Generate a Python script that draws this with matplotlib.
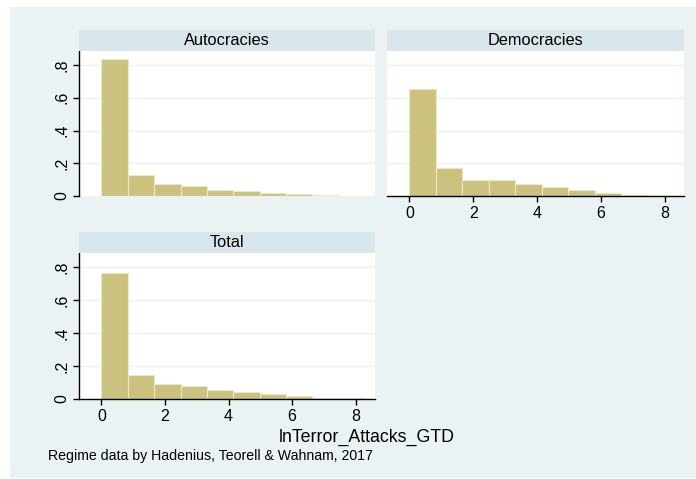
import matplotlib
matplotlib.use("Agg")
import matplotlib.pyplot as plt
import numpy as np
from matplotlib.patches import Rectangle

# histogram densities (10 bins of width ~0.83 from 0)
bin_width = 0.83
autocracies = [0.837, 0.128, 0.074, 0.061, 0.039, 0.033, 0.018, 0.012, 0.006, 0.003]
democracies = [0.653, 0.174, 0.100, 0.099, 0.072, 0.053, 0.039, 0.016, 0.004, 0.0]
total = [0.767, 0.148, 0.088, 0.077, 0.055, 0.041, 0.029, 0.016, 0.008, 0.005]

x_ticks = [0, 2, 4, 6, 8]
y_ticks = [0, 0.2, 0.4, 0.6, 0.8]
y_labels = ["0", ".2", ".4", ".6", ".8"]

BG = "#eaf2f3"
STRIP = "#d9e6eb"
BAR = "#cbc27f"
W, H = 696, 479

plt.rcParams["font.family"] = ["Liberation Sans", "DejaVu Sans"]
fig = plt.figure(figsize=(W / 100, H / 100), dpi=100)
fig.patches.append(Rectangle((10 / W, 1 / H), 1 - 10 / W, 1 - 8 / H, transform=fig.transFigure,
                             facecolor=BG, edgecolor="none", zorder=-10))


def px(l, t, r, b):
    return [l / W, 1 - b / H, (r - l) / W, (b - t) / H]


def panel(box, title, heights, show_x, show_y):
    l, t, r, b = box
    ax = fig.add_axes(px(l, t, r, b))
    ax.set_facecolor("white")
    edges = np.arange(len(heights)) * bin_width
    ax.bar(edges, heights, width=bin_width, align="edge", color=BAR,
           edgecolor="#ece8c8", linewidth=0.8, zorder=2)
    ax.set_xlim(-0.705, 8.61)
    ax.set_ylim(0, 0.886)
    for y in y_ticks[1:]:
        ax.axhline(y, color=BG, lw=1.0, zorder=1)
    for s in ["top", "right"]:
        ax.spines[s].set_visible(False)
    ax.spines["left"].set_visible(show_y)
    ax.spines["bottom"].set_visible(show_x)
    ax.spines["left"].set_linewidth(1.0)
    ax.spines["bottom"].set_linewidth(1.0)
    if show_y:
        ax.set_yticks(y_ticks)
        ax.set_yticklabels(y_labels, rotation=90, va="center", fontsize=11.5)
        ax.tick_params(axis="y", length=4, width=1, pad=3)
    else:
        ax.set_yticks([])
    if show_x:
        ax.set_xticks(x_ticks)
        ax.set_xticklabels([str(v) for v in x_ticks], fontsize=11.5)
        ax.tick_params(axis="x", length=4, width=1, pad=3)
    else:
        ax.set_xticks([])
    sax = fig.add_axes(px(l, t - 21, r, t))
    sax.set_facecolor(STRIP)
    sax.set_xticks([])
    sax.set_yticks([])
    for s in sax.spines.values():
        s.set_visible(False)
    sax.text(0.5, 0.48, title, ha="center", va="center", fontsize=11.8,
             transform=sax.transAxes)
    return ax


panel((79, 51, 375, 196), "Autocracies", autocracies, False, True)
panel((387, 51, 684, 196), "Democracies", democracies, True, False)
panel((79, 253, 375, 399), "Total", total, True, True)

fig.text(367 / W, 1 - 437 / H, "lnTerror_Attacks_GTD", ha="center", va="center", fontsize=12.8)
fig.text(48 / W, 1 - 456 / H, "Regime data by Hadenius, Teorell & Wahnam, 2017",
         ha="left", va="center", fontsize=10.2)

fig.savefig("out.png", dpi=100, facecolor="white")
